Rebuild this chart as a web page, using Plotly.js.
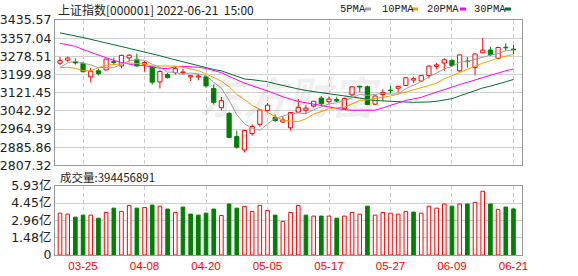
<!DOCTYPE html>
<html><head><meta charset="utf-8">
<script src="https://cdn.plot.ly/plotly-3.0.1.min.js"></script>
<style>html,body{margin:0;padding:0;background:#fff;}#chart{width:578px;height:276px;}</style>
</head><body><div id="chart"></div>
<script>
// ---------------- data ----------------
const dates = ['03-22','03-23','03-24','03-25','03-28','03-29','03-30','03-31','04-01','04-06',
'04-07','04-08','04-11','04-12','04-13','04-14','04-15','04-18','04-19','04-20',
'04-21','04-22','04-25','04-26','04-27','04-28','04-29','05-05','05-06','05-09',
'05-10','05-11','05-12','05-13','05-16','05-17','05-18','05-19','05-20','05-23',
'05-24','05-25','05-26','05-27','05-30','05-31','06-01','06-02','06-06','06-07',
'06-08','06-09','06-10','06-13','06-14','06-15','06-16','06-17','06-20','06-21'];

const openP = [3249,3262,3256,3248,3190,3216,3220,3256,3237,3272,
3266,3244,3234,3168,3200,3208,3208,3190,3190,3190,
3140,3057,3032,2932,2874,2945,2985,3045,3015,2995,
2970,3038,3046,3064,3098,3083,3092,3052,3112,3149.5,
3147,3072,3114,3133,3141,3153,3176,3172,3196,3235,
3250,3261,3216,3258,3230,3294,3306,3270,3318,3310];
const highP = [3276,3278,3270,3256,3228,3226,3268,3273,3286,3288,
3290,3259,3237,3218,3208,3235,3225,3198,3203,3194,
3157,3103,3039,2958,2960,2985,3050,3077,3027,3019,
3038,3095,3068,3086,3107,3105,3104,3100,3148,3151,
3153,3110,3137,3150,3152,3187,3191,3198,3240,3251,
3270,3266,3286,3276,3290,3358,3320,3320,3335,3328];
const lowP = [3240,3256,3243,3210,3166,3196,3218,3244,3227,3256,
3235,3213,3157,3140,3183,3200,3199,3172,3175,3143,
3071,3045,2925,2880,2864,2936,2975,3042,2996,2991,
2958,3036,3035,3058,3068,3071,3080,3048,3108,3125,
3068,3068,3085,3117,3122,3150,3163,3168,3183,3222,
3216,3233,3210,3230,3196,3292,3280,3265,3302,3289];
const closeP = [3259.86,3271.03,3250.26,3212.24,3214.50,3203.94,3266.60,3252.20,3282.72,3283.43,
3236.70,3251.85,3167.13,3213.33,3186.82,3225.64,3211.24,3195.52,3194.03,3151.05,
3079.81,3086.92,2928.51,2886.43,2958.28,2975.48,3047.06,3067.76,3001.56,3004.14,
3035.84,3058.70,3054.99,3084.28,3073.75,3093.70,3085.98,3096.96,3146.86,3146.57,
3070.93,3107.46,3123.11,3130.24,3149.06,3186.43,3182.16,3195.46,3236.37,3241.76,
3263.79,3238.95,3284.83,3255.55,3288.91,3305.41,3285.38,3316.79,3315.43,3306.72];

const ma5 = [3230.1,3250.1,3257.2,3249.4,3241.6,3230.4,3229.5,3229.9,3244.0,3257.8,
3264.3,3261.4,3244.4,3230.5,3211.2,3209.0,3200.8,3206.5,3202.7,3195.5,
3166.3,3141.5,3088.1,3026.5,2988.0,2967.1,2959.2,2987.0,3010.0,3019.2,
3031.3,3033.6,3031.1,3047.6,3061.5,3073.1,3078.5,3086.9,3099.5,3114.0,
3109.5,3113.8,3119.0,3115.7,3116.2,3139.3,3154.2,3168.7,3189.9,3208.4,
3223.9,3235.3,3253.1,3257.0,3266.4,3274.7,3284.0,3290.4,3302.4,3306.0];
const ma10 = [3230.0,3231.5,3226.9,3217.1,3216.2,3230.2,3239.8,3243.5,3246.7,3249.7,
3247.4,3245.5,3237.1,3237.2,3234.5,3236.6,3231.1,3225.4,3216.6,3203.3,
3187.6,3171.2,3147.3,3114.6,3091.8,3066.7,3050.3,3037.5,3018.3,3003.6,
2999.2,2996.4,3009.0,3028.8,3040.4,3052.2,3056.1,3059.0,3073.5,3087.8,
3091.3,3096.2,3103.0,3107.6,3115.1,3124.4,3134.0,3143.8,3152.8,3162.3,
3181.6,3194.7,3210.9,3223.4,3237.4,3249.3,3259.7,3271.8,3279.7,3286.2];
const ma20 = [3335,3330,3322,3308,3296,3283,3272,3261,3252,3245,
3238.7,3238.5,3232.0,3227.2,3225.4,3233.4,3235.5,3234.5,3231.6,3226.5,
3217.5,3208.3,3192.2,3175.9,3163.1,3151.7,3140.7,3131.5,3117.4,3103.5,
3093.4,3083.8,3078.2,3071.7,3066.1,3059.5,3053.2,3048.3,3045.9,3045.7,
3045.2,3046.3,3056.0,3068.2,3077.7,3088.3,3095.0,3101.4,3113.2,3125.0,
3136.4,3145.5,3156.9,3165.5,3176.3,3186.8,3196.8,3207.8,3216.2,3224.2];
const ma30 = [3380,3374,3367,3360,3352,3345,3337,3329,3321,3313,
3305.8,3297.9,3289.2,3281.2,3272.0,3263.3,3254.2,3244.6,3236.2,3228.8,
3221.7,3216.0,3203.8,3189.7,3180.8,3177.9,3173.8,3168.8,3160.5,3152.2,
3144.7,3137.7,3131.2,3126.9,3122.2,3118.5,3112.5,3107.3,3102.8,3098.2,
3092.7,3087.9,3086.4,3083.7,3082.4,3081.1,3080.1,3080.1,3081.5,3084.6,
3090.7,3095.8,3107.6,3119.9,3131.0,3142.0,3149.9,3158.2,3168.7,3178.8];

// volume in 亿 (1e8)
const volume = [3.58,3.50,3.24,3.41,3.41,3.15,3.64,4.01,3.73,4.24,
4.01,4.07,4.27,4.18,3.93,3.64,4.10,3.50,3.41,3.58,
3.93,3.38,4.36,4.01,4.16,3.73,4.24,3.81,3.41,2.87,
3.64,4.24,3.41,3.33,3.33,3.33,3.15,3.33,3.64,3.50,
4.18,3.41,3.64,3.58,3.50,3.73,3.67,3.58,4.18,4.01,
4.36,4.18,4.36,4.36,4.50,5.45,4.36,3.90,4.10,3.94456891];
// 1 = up day (red hollow), 0 = down day (green)
const volUp = [1,1,0,0,1,0,1,0,1,1,
0,1,0,1,0,1,0,0,0,0,
0,1,0,0,1,1,1,1,0,1,
1,1,0,1,0,1,0,1,1,1,
0,1,1,1,1,1,0,1,1,1,
1,0,1,0,1,1,0,1,0,0];

const tickDates = ['03-25','04-08','04-20','05-05','05-17','05-27','06-09','06-21'];
const priceTicks = [2807.32,2885.86,2964.39,3042.92,3121.45,3199.98,3278.51,3357.04,3435.57];
const priceTickText = ['2807.32','2885.86','2964.39','3042.92','3121.45','3199.98','3278.51','3357.04','3435.57'];
const volTickVals = [0,1.4825,2.965,4.4475,5.93];
const volTickText = ['0','1.48亿','2.96亿','4.45亿','5.93亿'];
const titleText = '上证指数[000001] 2022-06-21\u00a0\u00a015:00';
const volLabel = '成交量:394456891';
const maNames = ['5PMA','10PMA','20PMA','30PMA'];

// ---------------- styles ----------------
const RED = '#ff0000', GREEN = '#008000';
const maColors = ['#a0a0a0','#f5a000','#ff00ff','#006f32'];
const W = 578, H = 276, ML = 55, MR = 56, MT = 20, MB = 21;
const PW = W - ML - MR, PH = H - MT - MB;
const px = v => (v - ML) / PW;
const py = v => (H - MB - v) / PH;

// candle bodies
const isUp = closeP.map((c, i) => c >= openP[i]);
const bodyBase = closeP.map((c, i) => Math.min(c, openP[i]));
const bodyLen = closeP.map((c, i) => Math.abs(c - openP[i]));
// wicks
const upX = [], upY = [], dnX = [], dnY = [];
dates.forEach((d, i) => {
  const top = Math.max(openP[i], closeP[i]), bot = Math.min(openP[i], closeP[i]);
  const X = isUp[i] ? upX : dnX, Y = isUp[i] ? upY : dnY;
  X.push(d, d, null, d, d, null);
  Y.push(highP[i], top, null, bot, lowP[i], null);
});

const traces = [
  {type:'bar', x:dates, y:bodyLen, base:bodyBase, width:0.55, xaxis:'x', yaxis:'y',
   marker:{color:isUp.map(u => u ? '#ffffff' : GREEN), line:{color:isUp.map(u => u ? RED : GREEN), width:1}},
   hoverinfo:'skip', showlegend:false},
  {type:'bar', x:dates, y:volume, width:0.47, xaxis:'x2', yaxis:'y2',
   marker:{color:volUp.map(u => u ? '#ffffff' : GREEN), line:{color:volUp.map(u => u ? RED : GREEN), width:1}},
   hoverinfo:'skip', showlegend:false},
  {type:'scatter', mode:'lines', x:upX, y:upY, line:{color:RED, width:1}, xaxis:'x', yaxis:'y', hoverinfo:'skip', showlegend:false},
  {type:'scatter', mode:'lines', x:dnX, y:dnY, line:{color:GREEN, width:1}, xaxis:'x', yaxis:'y', hoverinfo:'skip', showlegend:false},
];
[ma30, ma20, ma10, ma5].forEach((arr, k) => {
  const idx = 3 - k;
  traces.push({type:'scatter', mode:'lines', name:maNames[idx], x:dates, y:arr,
    line:{color:maColors[idx], width:1}, xaxis:'x', yaxis:'y', hoverinfo:'skip', showlegend:false});
});

const xRange = [-0.65, 60.11];
const frame = {showline:true, mirror:true, linecolor:'#999', linewidth:1, ticks:'', zeroline:false, fixedrange:true};
const annotations = [
  {xref:'paper', yref:'paper', x:px(56), y:py(9), xanchor:'left', yanchor:'middle', showarrow:false,
   text:titleText, font:{family:'Noto Sans CJK SC', size:12, color:'#222'}},
  {xref:'paper', yref:'paper', x:px(58), y:py(177), xanchor:'left', yanchor:'middle', showarrow:false,
   text:volLabel, font:{family:'Noto Sans CJK SC', size:11.5, color:'#222'}},
  {xref:'paper', yref:'paper', x:px(290), y:py(95), xanchor:'center', yanchor:'middle', showarrow:false,
   text:'东方财富', font:{family:'Noto Sans CJK SC', size:44, color:'rgba(0,0,0,0.07)', weight:'bold', style:'italic'}},
];
const legX = [338, 380, 425, 472];
const legMarkX = [365, 412, 460, 505];
const shapes = [];
maNames.forEach((n, k) => {
  annotations.push({xref:'paper', yref:'paper', x:px(legX[k]), y:py(9), xanchor:'left', yanchor:'middle', showarrow:false,
    text:n, font:{family:'Liberation Mono', size:10.5, color:'#222'}});
  shapes.push({type:'rect', xref:'paper', yref:'paper', x0:px(legMarkX[k]), x1:px(legMarkX[k] + 6),
    y0:py(10.5), y1:py(7.5), fillcolor:maColors[k], line:{width:0}});
});

const layout = {
  width:W, height:H, margin:{l:ML, r:MR, t:MT, b:MB},
  paper_bgcolor:'#fff', plot_bgcolor:'#fff', barmode:'overlay', showlegend:false, hovermode:false,
  xaxis: Object.assign({}, frame, {anchor:'y', domain:[0,1], type:'category', range:xRange,
    tickvals:tickDates, showticklabels:false, showgrid:true, gridcolor:'#cccccc', griddash:'4px,3px', gridwidth:1}),
  yaxis: Object.assign({}, frame, {anchor:'x', domain:[0.381,1], range:[2807.32,3435.57],
    tickvals:priceTicks, ticktext:priceTickText, showgrid:true, gridcolor:'#d0d0d0', gridwidth:1,
    tickfont:{family:'DejaVu Sans', size:12.5, color:'#222'}}),
  xaxis2: Object.assign({}, frame, {anchor:'y2', domain:[0,1], type:'category', range:xRange,
    tickvals:tickDates, ticktext:tickDates, showgrid:true, gridcolor:'#cccccc', griddash:'4px,3px', gridwidth:1,
    tickfont:{family:'Liberation Sans', size:11.5, color:RED}}),
  yaxis2: Object.assign({}, frame, {anchor:'x2', domain:[0,0.295], range:[0,5.93],
    tickvals:volTickVals, ticktext:volTickText, showgrid:true, gridcolor:'#d0d0d0', gridwidth:1,
    tickfont:{family:'DejaVu Sans, Noto Sans CJK SC', size:12.5, color:'#222'}}),
  annotations:annotations, shapes:shapes
};
Plotly.newPlot('chart', traces, layout, {staticPlot:true, displayModeBar:false});
</script></body></html>
